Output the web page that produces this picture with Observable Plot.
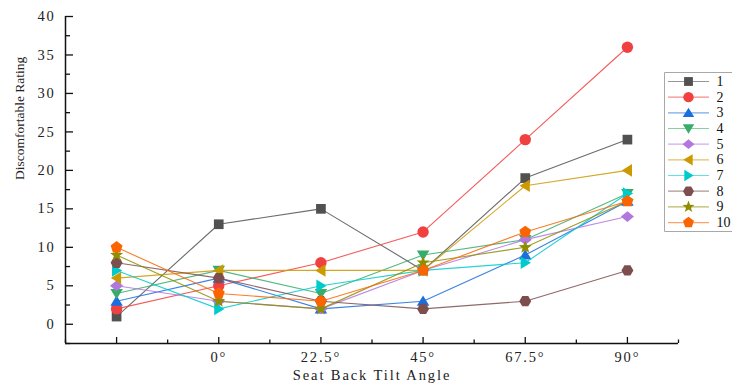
<!DOCTYPE html>
<html><head><meta charset="utf-8">
<script src="https://cdn.jsdelivr.net/npm/d3@7"></script>
<script src="https://cdn.jsdelivr.net/npm/@observablehq/plot@0.6"></script>
<style>
html,body{margin:0;padding:0;background:#fff;}
body{width:732px;height:385px;overflow:hidden;}
svg{display:block;}
g[aria-label="x-axis tick label"] text, g[aria-label="y-axis tick label"] text{letter-spacing:1.8px;}
g[aria-label="x-axis label"] text{letter-spacing:1.9px;}
</style></head><body><div id="chart"></div>
<script>
// ---- data ----
const angleIdx = [0, 1, 2, 3, 4, 5];
const angleLabels = ["", "0°", "22.5°", "45°", "67.5°", "90°"];
const seriesNames = ["1", "2", "3", "4", "5", "6", "7", "8", "9", "10"];
const s1 = [1, 13, 15, 7, 19, 24];
const s2 = [2, 5, 8, 12, 24, 36];
const s3 = [3, 6, 2, 3, 9, 16];
const s4 = [4, 7, 4, 9, 11, 17];
const s5 = [5, 3, 2, 7, 11, 14];
const s6 = [6, 7, 7, 7, 18, 20];
const s7 = [7, 2, 5, 7, 8, 17];
const s8 = [8, 6, 3, 2, 3, 7];
const s9 = [9, 3, 2, 8, 10, 16];
const s10 = [10, 4, 3, 7, 12, 16];
const seriesValues = [s1, s2, s3, s4, s5, s6, s7, s8, s9, s10];
const seriesColors = ["#515151", "#F14040", "#1A6FDF", "#37AD6B", "#B177DE", "#CC9900", "#00CBCC", "#7D4E4E", "#8E8E00", "#FB6501"];
const yTicks = [0, 5, 10, 15, 20, 25, 30, 35, 40];
const yMinorTicks = [-2.5, 2.5, 7.5, 12.5, 17.5, 22.5, 27.5, 32.5, 37.5];
const xMinorTicks = [-0.5, 0.5, 1.5, 2.5, 3.5, 4.5, 5.5];
const yTitle = "Discomfortable Rating";
const xTitle = "Seat Back Tilt Angle";

// ---- symbols ----
function poly(pts) {
  return {draw(ctx, size) {
    const r = Math.sqrt(size / Math.PI);
    pts.forEach(([a, b], i) => i ? ctx.lineTo(a * r, b * r) : ctx.moveTo(a * r, b * r));
    ctx.closePath();
  }};
}
function regular(n, rad, rot) {
  const p = [];
  for (let i = 0; i < n; i++) { const t = rot + i * 2 * Math.PI / n; p.push([rad * Math.cos(t), rad * Math.sin(t)]); }
  return poly(p);
}
function star(outer, inner) {
  const p = [];
  for (let i = 0; i < 10; i++) { const t = -Math.PI / 2 + i * Math.PI / 5; const rr = i % 2 ? inner : outer; p.push([rr * Math.cos(t), rr * Math.sin(t)]); }
  return poly(p);
}
const symSquare = poly([[-0.85, -0.85], [0.85, -0.85], [0.85, 0.85], [-0.85, 0.85]]);
const symCircle = d3.symbolCircle;
const symUp = poly([[0, -1.0], [1.1, 0.8], [-1.1, 0.8]]);
const symDown = poly([[0, 1.0], [1.1, -0.8], [-1.1, -0.8]]);
const symDiamond = poly([[0, -0.95], [1.15, 0], [0, 0.95], [-1.15, 0]]);
const symLeft = poly([[-1.0, 0], [0.8, -1.1], [0.8, 1.1]]);
const symRight = poly([[1.0, 0], [-0.8, -1.1], [-0.8, 1.1]]);
const symHex = regular(6, 1.05, 0);
const symStar = star(1.2, 0.5);
const symPent = regular(5, 1.1, -Math.PI / 2);
const seriesSymbols = [symSquare, symCircle, symUp, symDown, symDiamond, symLeft, symRight, symHex, symStar, symPent];

// legend helper shapes (pixel-sized, layout only)
const legendLine = {draw(ctx) { ctx.moveTo(-20.5, 0); ctx.lineTo(20.5, 0); }};
const legendBox = {draw(ctx) { ctx.rect(0, 0, 80, 159); }};

const rows = seriesNames.map((name, i) => angleIdx.map((x, j) => ({series: name, x, y: seriesValues[i][j]})));

const font = "Liberation Serif";
const seriesMarks = seriesNames.flatMap((name, i) => [
  Plot.line(rows[i], {x: "x", y: "y", stroke: seriesColors[i], strokeWidth: 1.1, strokeOpacity: 0.85}),
  Plot.dot(rows[i], {x: "x", y: "y", fill: seriesColors[i], r: 5.7, symbol: seriesSymbols[i], stroke: "none"})
]);

// legend sits in the right margin; offsets relative to the frame's top-right corner
const legX = -14, legY = 56, legRow0 = 9, legStep = 15.67;
const legendMarks = [
  Plot.dot([0], {frameAnchor: "top-right", dx: legX, dy: legY, symbol: legendBox, r: 1, fill: "#fff", stroke: "#a8a8a8", strokeWidth: 1}),
  ...seriesNames.flatMap((name, i) => [
    Plot.dot([name], {frameAnchor: "top-right", dx: legX + 24, dy: legY + legRow0 + i * legStep, symbol: legendLine, r: 1, fill: "none", stroke: seriesColors[i], strokeWidth: 1.2, strokeOpacity: 0.6}),
    Plot.dot([name], {frameAnchor: "top-right", dx: legX + 24, dy: legY + legRow0 + i * legStep, symbol: seriesSymbols[i], r: 5.2, fill: seriesColors[i], stroke: "none"}),
    Plot.text([name], {frameAnchor: "top-right", dx: legX + 52, dy: legY + legRow0 + i * legStep, text: d => d, textAnchor: "start", lineAnchor: "middle", fontSize: 14, fill: "#111"})
  ])
];

const chart = Plot.plot({
  width: 732, height: 385,
  marginLeft: 65, marginRight: 54, marginTop: 16, marginBottom: 42,
  style: {fontFamily: font, fontSize: "14.5px", color: "#222", background: "#fff"},
  x: {type: "linear", domain: [-0.5, 5.5]},
  y: {type: "linear", domain: [-2.5, 40]},
  marks: [
    ...seriesMarks,
    Plot.ruleX([-0.5], {stroke: "#111", strokeWidth: 1.5}),
    Plot.ruleY([-2.5], {stroke: "#111", strokeWidth: 1.5}),
    Plot.axisY({ticks: yTicks, tickSize: -8, text: null, label: null, stroke: "#111", strokeWidth: 1.3}),
    Plot.axisY({ticks: yMinorTicks, tickSize: -5, text: null, label: null, stroke: "#111", strokeWidth: 1.3}),
    Plot.axisY({ticks: yTicks, tickSize: 0, tickPadding: 10, fontSize: 14.5, fill: "#222", label: null}),
    Plot.text([yTitle], {frameAnchor: "left", rotate: -90, dx: -46, fontSize: 13.5, fill: "#222", text: d => d}),
    Plot.axisX({ticks: angleIdx, tickSize: -6, text: null, label: null, stroke: "#111", strokeWidth: 1.3}),
    Plot.axisX({ticks: xMinorTicks, tickSize: -3.5, text: null, label: null, stroke: "#111", strokeWidth: 1.3}),
    Plot.axisX({ticks: angleIdx, tickSize: 0, tickPadding: 8, tickFormat: i => angleLabels[i], fontSize: 14.5, fill: "#222",
      label: xTitle, labelAnchor: "center", labelArrow: "none", labelOffset: 36}),
    ...legendMarks
  ]
});
document.getElementById("chart").appendChild(chart);
</script>
</body></html>
